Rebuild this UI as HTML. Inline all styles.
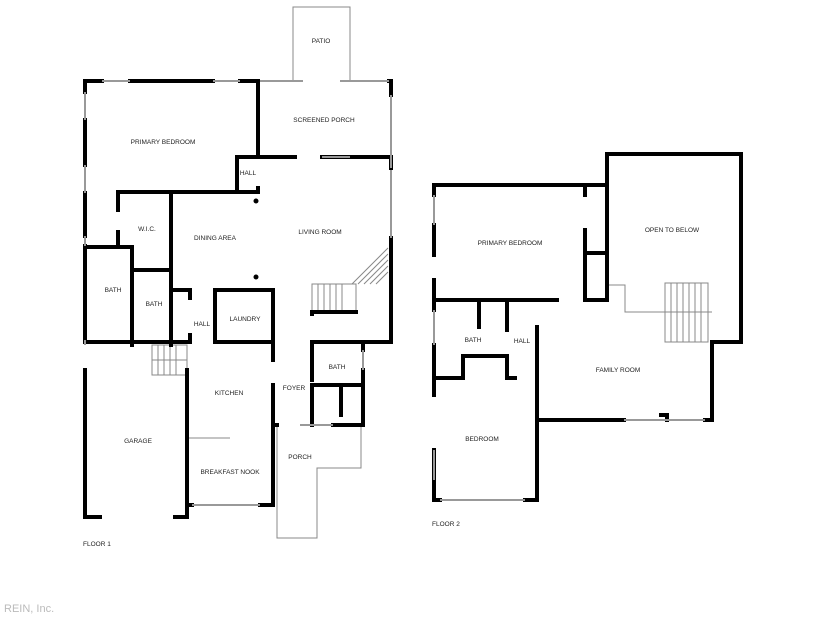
<!DOCTYPE html>
<html><head><style>
html,body{margin:0;padding:0;background:#fff;}
svg{display:block;}
text{font-family:"Liberation Sans",sans-serif;font-size:6.5px;fill:#222;text-anchor:middle;}
</style></head><body>
<svg width="825" height="619" viewBox="0 0 825 619" xmlns="http://www.w3.org/2000/svg">
<g stroke="#888" stroke-width="1" fill="none">
<path d="M293 80V7H350V80"/>
<path d="M277 425V538H317V468H361V425"/>
<rect x="312" y="284" width="44" height="27"/>
<path d="M318 284v27M324 284v27M330 284v27M336 284v27M342 284v27"/>
<rect x="152" y="345" width="35" height="30"/>
<path d="M158 345v30M164 345v30M170 345v30M176 345v30M152 360h35"/>
<path d="M352 284L388 248M358 284L388 254M364 284L388 260M370 284L388 266M376 284L388 272"/>
<rect x="665" y="283" width="43" height="59"/>
<path d="M671 283v59M677 283v59M683 283v59M689 283v59M695 283v59M701 283v59M665 312h43"/>
<path d="M607 285H625V312H712"/>
<path d="M188 438H230"/>
</g>
<g stroke="#000" stroke-width="4" fill="none" stroke-linecap="square">
<path d="M85 81H102M130 81H213M240 81H258"/>
<path d="M389 81H391V95"/>
<path d="M85 81V92M85 120V165M85 193V236M85 246V340"/>
<path d="M85 370V517H100M175 517H187V370"/>
<path d="M258 81V157H295M322 157H391V168M391 238V342"/>
<path d="M237 157H258M237 157V192M118 192H258V188"/>
<path d="M118 192V210M118 232V247M85 247H132V345M132 270H171"/>
<path d="M171 192V345M85 342H190"/>
<path d="M171 290H190M190 290V298M190 335V342"/>
<path d="M215 290H273V342H215M215 290V342"/>
<path d="M273 342V360M273 385V505H260M187 505H192"/>
<path d="M312 312H356M312 312V314M312 342H391"/>
<path d="M312 342V380M312 385H363M363 342V350M363 370V425H333M312 385V425M273 425H277"/>
<path d="M341 385V415"/>
<path d="M434 185H607M607 154H741V342H712V420H705M624 420H612V420H537V327"/>
<path d="M434 185V195M434 225V255M434 280V310M434 345V395M434 450V500H440M525 500H537V420"/>
<path d="M434 300H557M585 300H607V154"/>
<path d="M585 230V300M585 253H607M585 185V195"/>
<path d="M479 300V327M507 300V330M507 356V378H515M434 378H463V356H507"/>
<path d="M661 415H667V420"/>
</g>
<g stroke="#999" stroke-width="2" fill="none">
<path d="M102 81H130M213 81H240M260 81H303M340 81H389M391 95V168M391 170V238M85 92V120M85 165V193M85 236V246M85 340V345"/>
<path d="M322 157H350M363 350V370M300 425H333M192 505H260M434 195V225M434 310V345M434 450V480M440 500H525M624 420H705"/>
</g>
<circle cx="256" cy="201" r="2.5"/>
<circle cx="256" cy="277" r="2.5"/>
<text x="321" y="43">PATIO</text>
<text x="324" y="122">SCREENED PORCH</text>
<text x="163" y="144">PRIMARY BEDROOM</text>
<text x="248" y="175">HALL</text>
<text x="147" y="231">W.I.C.</text>
<text x="215" y="240">DINING AREA</text>
<text x="320" y="234">LIVING ROOM</text>
<text x="113" y="292">BATH</text>
<text x="154" y="306">BATH</text>
<text x="202" y="326">HALL</text>
<text x="245" y="321">LAUNDRY</text>
<text x="337" y="369">BATH</text>
<text x="294" y="390">FOYER</text>
<text x="229" y="395">KITCHEN</text>
<text x="138" y="443">GARAGE</text>
<text x="300" y="459">PORCH</text>
<text x="230" y="474">BREAKFAST NOOK</text>
<text x="83" y="546" style="text-anchor:start">FLOOR 1</text>
<text x="510" y="245">PRIMARY BEDROOM</text>
<text x="672" y="232">OPEN TO BELOW</text>
<text x="473" y="342">BATH</text>
<text x="522" y="343">HALL</text>
<text x="618" y="372">FAMILY ROOM</text>
<text x="482" y="441">BEDROOM</text>
<text x="432" y="526" style="text-anchor:start">FLOOR 2</text>
<text x="4" y="612" style="text-anchor:start;font-size:11px;fill:#bbb">REIN, Inc.</text>
</svg>
</body></html>
